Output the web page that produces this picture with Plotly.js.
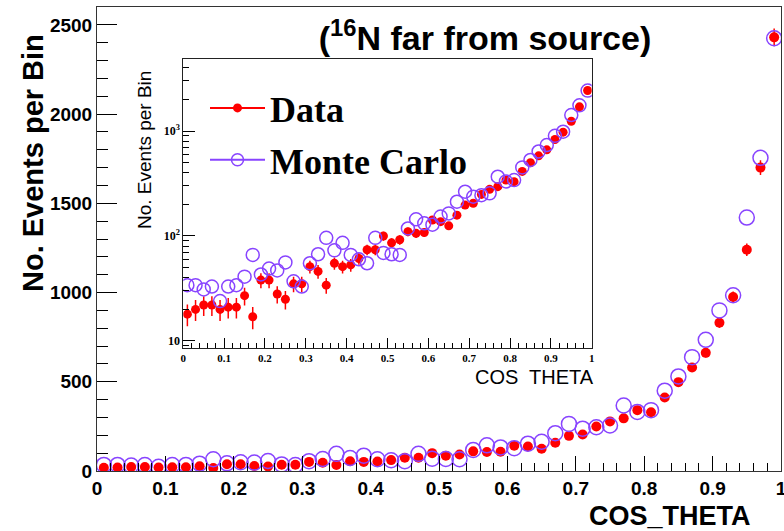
<!DOCTYPE html>
<html>
<head>
<meta charset="utf-8">
<script src="https://cdn.plot.ly/plotly-3.0.1.min.js"></script>
<style>html,body{margin:0;padding:0;background:#fff;}#chart{width:784px;height:531px;}</style>
</head>
<body>
<div id="chart"></div>
<script>
// Bin centres of COS_THETA (50 bins of width 0.02)
const cosTheta = [0.01,0.03,0.05,0.07,0.09,0.11,0.13,0.15,0.17,0.19,
                  0.21,0.23,0.25,0.27,0.29,0.31,0.33,0.35,0.37,0.39,
                  0.41,0.43,0.45,0.47,0.49,0.51,0.53,0.55,0.57,0.59,
                  0.61,0.63,0.65,0.67,0.69,0.71,0.73,0.75,0.77,0.79,
                  0.81,0.83,0.85,0.87,0.89,0.91,0.93,0.95,0.97,0.99];
// Data (events per bin)
const dataCounts = [18,20,22,22,20,21,21,27,17,38,
                    38,28,25,35,35,51,46,34,55,51,
                    53,61,74,74,100,86,92,110,106,108,
                    142,137,125,158,197,205,249,278,295,341,
                    329,412,498,580,662,831,975,1240,1700,2430];
// Statistical errors on data
const dataErr = [4.2,4.5,4.7,4.7,4.5,4.6,4.6,5.2,4.1,6.2,
                 6.2,5.3,5.0,5.9,5.9,7.1,6.8,5.8,7.4,7.1,
                 7.3,7.8,8.6,8.6,10,9.3,9.6,10.5,10.3,10.4,
                 11.9,11.7,11.2,12.6,14,14.3,15.8,16.7,17.2,18.5,
                 18.1,20.3,22.3,24.1,25.7,28.8,31.2,35.2,41.2,49.3];
// Monte Carlo (events per bin)
const mcCounts = [34,34,31,33,24,33,34,41,66,43,
                  49,47,56,37,33,55,67,96,73,86,
                  66,60,55,96,69,67,66,118,144,132,
                  128,153,164,212,264,237,245,255,367,331,
                  341,450,530,638,735,900,985,1420,1755,2425];
// Tick labels
const insetLogTickVals = [10,100,1000];
const insetLogTickText = ['10','10<sup>2</sup>','10<sup>3</sup>'];
const seriesNames = ['Data','Monte Carlo'];

const RED = '#ff0000';
const PURPLE = '#8844ff';
const SANS = 'Liberation Sans, Arial, Helvetica, sans-serif';
const SERIF = 'Liberation Serif, Times New Roman, serif';

const traces = [
  {x: cosTheta, y: dataCounts, type:'scatter', mode:'markers', xaxis:'x', yaxis:'y',
   marker:{color:RED, size:10, symbol:'circle'},
   error_y:{type:'data', array:dataErr, visible:true, color:RED, thickness:1.5, width:0},
   showlegend:false, hoverinfo:'skip'},
  {x: cosTheta, y: mcCounts, type:'scatter', mode:'markers', xaxis:'x', yaxis:'y',
   marker:{color:PURPLE, size:15, symbol:'circle-open', line:{color:PURPLE, width:1.5}},
   showlegend:false, hoverinfo:'skip'},
  {x: cosTheta, y: dataCounts, type:'scatter', mode:'markers', xaxis:'x2', yaxis:'y2',
   marker:{color:RED, size:9, symbol:'circle'},
   error_y:{type:'data', array:dataErr, visible:true, color:RED, thickness:1.5, width:0},
   showlegend:false, hoverinfo:'skip'},
  {x: cosTheta, y: mcCounts, type:'scatter', mode:'markers', xaxis:'x2', yaxis:'y2',
   marker:{size:13, symbol:'circle-open', line:{color:PURPLE, width:1.5}, color:PURPLE},
   showlegend:false, hoverinfo:'skip'},
  // legend entries
  {x:[null], y:[null], type:'scatter', mode:'lines+markers', xaxis:'x2', yaxis:'y2',
   name: seriesNames[0], legendgroup:'a',
   line:{color:RED, width:2}, marker:{color:RED, size:9, symbol:'circle'}},
  {x:[null], y:[null], type:'scatter', mode:'lines+markers', xaxis:'x2', yaxis:'y2',
   name: seriesNames[1], legendgroup:'b',
   line:{color:PURPLE, width:2}, marker:{color:PURPLE, size:12, symbol:'circle-open', line:{color:PURPLE, width:1.5}}}
];

const W = 784, H = 531, L = 97, R = 3, T = 7, B = 60;
const pw = W - L - R, ph = H - T - B;
const px = v => (v - L) / pw;
const py = v => (H - B - v) / ph;

const layout = {
  width: W, height: H,
  margin:{l:L, r:R, t:T, b:B, pad:0},
  paper_bgcolor:'#ffffff', plot_bgcolor:'#ffffff',
  showlegend:true,
  title:{text:'(<sup>16</sup>N far from source)', x:485/W, xanchor:'center', y:1-38/H, yanchor:'middle',
         font:{family:SANS, size:34, weight:'bold', color:'#000'}},
  xaxis:{domain:[0,1], range:[0,1], anchor:'y',
         showline:true, mirror:true, linecolor:'#333', linewidth:1,
         showgrid:false, zeroline:false, ticklabeloverflow:'allow',
         ticks:'inside', ticklen:15, tickwidth:1, tickcolor:'#000', dtick:0.1, tick0:0,
         minor:{ticks:'inside', ticklen:8, tickwidth:1, tickcolor:'#000', dtick:0.02, showgrid:false},
         tickfont:{family:SANS, size:19, weight:'bold', color:'#000'}},
  yaxis:{domain:[0,1], range:[0,2600], anchor:'x',
         showline:true, mirror:true, linecolor:'#333', linewidth:1,
         showgrid:false, zeroline:false,
         ticks:'inside', ticklen:20, tickwidth:1, tickcolor:'#000', dtick:500, tick0:0,
         minor:{ticks:'inside', ticklen:11, tickwidth:1, tickcolor:'#000', dtick:100, showgrid:false},
         tickfont:{family:SANS, size:19, weight:'bold', color:'#000'}},
  xaxis2:{domain:[px(183.3), px(591.7)], range:[0,1], anchor:'y2',
         showline:true, mirror:true, linecolor:'#222', linewidth:1,
         showgrid:false, zeroline:false, ticklabeloverflow:'allow',
         ticks:'inside', ticklen:10, tickwidth:1, tickcolor:'#000', dtick:0.1, tick0:0,
         minor:{ticks:'inside', ticklen:5, tickwidth:1, tickcolor:'#000', dtick:0.02, showgrid:false},
         tickfont:{family:SERIF, size:11, weight:'bold', color:'#000'}},
  yaxis2:{domain:[py(347.7), py(59.3)], type:'log', range:[0.936, 3.683], anchor:'x2',
         showline:true, mirror:true, linecolor:'#222', linewidth:1,
         showgrid:false, zeroline:false,
         ticks:'inside', ticklen:12, tickwidth:1, tickcolor:'#000',
         tickvals:insetLogTickVals, ticktext:insetLogTickText,
         minor:{ticks:'inside', ticklen:6, tickwidth:1, tickcolor:'#000', dtick:'D1', showgrid:false},
         tickfont:{family:SERIF, size:12, weight:'bold', color:'#000'}},
  legend:{x:px(205), xanchor:'left', y:py(78), yanchor:'top', bgcolor:'rgba(0,0,0,0)',
          borderwidth:0, font:{family:SERIF, size:36, weight:'bold', color:'#000'},
          itemwidth:55, tracegroupgap:2},
  annotations:[
    {text:'No. Events per Bin', xref:'paper', yref:'paper', x:px(33), y:py(163), xanchor:'center', yanchor:'middle',
     textangle:-90, showarrow:false, font:{family:SANS, size:29, weight:'bold', color:'#000'}},
    {text:'COS_THETA', xref:'paper', yref:'paper', x:px(753), y:py(516), xanchor:'right', yanchor:'middle',
     showarrow:false, font:{family:SANS, size:27, weight:'bold', color:'#000'}},
    {text:'No. Events per Bin', xref:'paper', yref:'paper', x:px(144), y:py(150), xanchor:'center', yanchor:'middle',
     textangle:-90, showarrow:false, font:{family:SANS, size:19, color:'#000'}},
    {text:'COS&nbsp; THETA', xref:'paper', yref:'paper', x:px(596), y:py(377), xanchor:'right', yanchor:'middle',
     showarrow:false, font:{family:SANS, size:20, color:'#000'}}
  ]
};

Plotly.newPlot('chart', traces, layout, {displayModeBar:false, staticPlot:true});
</script>
</body>
</html>
